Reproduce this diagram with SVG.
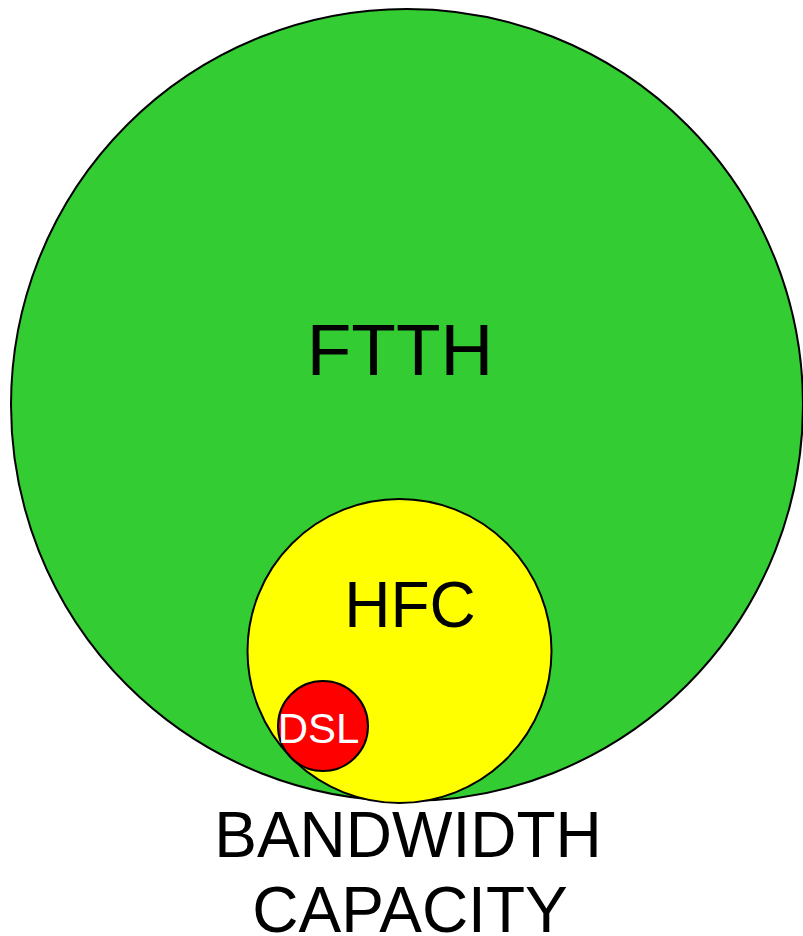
<svg xmlns="http://www.w3.org/2000/svg" width="803" height="936" viewBox="0 0 803 936">
<style>
.c{stroke:#000;stroke-width:2}
.t{font-family:"Liberation Sans",Arial,sans-serif;text-anchor:middle}
</style>
<rect width="803" height="936" fill="#fff"/>
<g id="ftth">
<circle class="c" cx="407" cy="405" r="396" fill="#33cc33"/>
<text class="t" x="400" y="375" font-size="73" fill="#000">FTTH</text>
</g>
<g id="hfc">
<circle class="c" cx="399.5" cy="651" r="152" fill="#ffff00"/>
<text class="t" x="410" y="627" font-size="64" fill="#000">HFC</text>
</g>
<g id="dsl">
<circle class="c" cx="323" cy="726" r="45" fill="#ff0000"/>
<text class="t" x="318.5" y="743" font-size="42" fill="#fff">DSL</text>
</g>
<g id="label">
<text class="t" x="408" y="857" font-size="64" fill="#000">BANDWIDTH</text>
<text class="t" x="410" y="932" font-size="64" fill="#000">CAPACITY</text>
</g>
<g id="connectors"/>
</svg>
